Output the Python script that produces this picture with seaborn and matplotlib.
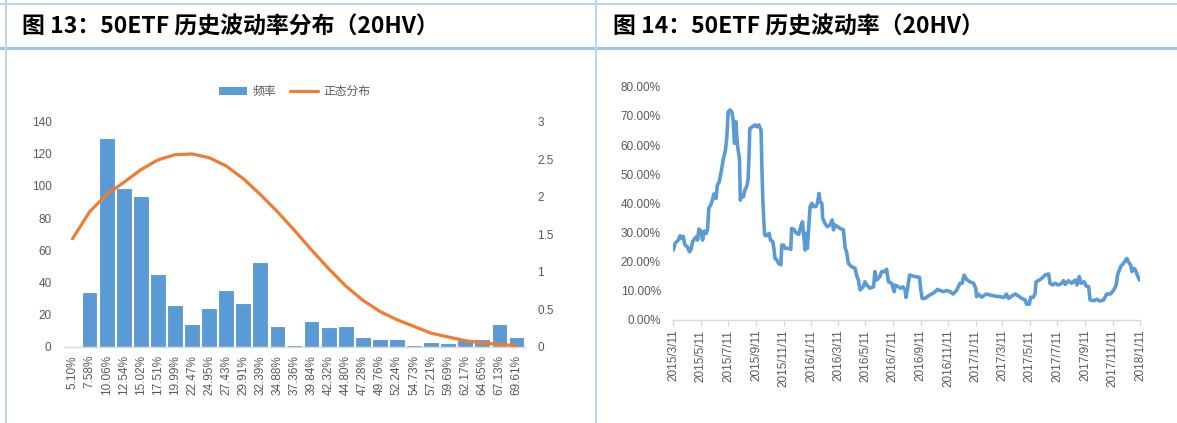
import numpy as np
import pandas as pd
import matplotlib
matplotlib.use('Agg')
import matplotlib.pyplot as plt
import seaborn as sns
from matplotlib.lines import Line2D
from matplotlib.patches import Patch

sns.set_theme(style='white')
plt.rcParams['font.family'] = ['Liberation Sans', 'Noto Sans CJK SC', 'DejaVu Sans']

# ---------------- data: left chart (histogram of 20HV) ----------------
bins = ['5.10%', '7.58%', '10.06%', '12.54%', '15.02%', '17.51%', '19.99%', '22.47%',
        '24.95%', '27.43%', '29.91%', '32.39%', '34.88%', '37.36%', '39.84%', '42.32%',
        '44.80%', '47.28%', '49.76%', '52.24%', '54.73%', '57.21%', '59.69%', '62.17%',
        '64.65%', '67.13%', '69.61%']
freq = [0, 34, 130, 99, 94, 45, 26, 14, 24, 35, 27, 53, 13, 1, 16, 12, 13, 6, 5, 5,
        1, 3, 2, 4, 5, 14, 6]
normal = [1.44, 1.80, 2.03, 2.19, 2.36, 2.49, 2.56, 2.57, 2.52, 2.41, 2.24, 2.03, 1.80,
          1.55, 1.29, 1.04, 0.81, 0.62, 0.47, 0.36, 0.27, 0.18, 0.13, 0.08, 0.05, 0.03, 0.015]
left_yticks = [0, 20, 40, 60, 80, 100, 120, 140]
right_yticks = [0, 0.5, 1, 1.5, 2, 2.5, 3]
right_ylabels = ['0', '0.5', '1', '1.5', '2', '2.5', '3']
legend_labels = ['频率', '正态分布']

# ---------------- data: right chart (20HV time series) ----------------
start_date = '2015-03-11'
# calendar days since 2015-03-11
hv_day = [0, 4, 11, 15, 19, 22, 26, 31, 36, 39, 43, 48, 52, 54, 57, 62, 65, 69, 73, 76,
          79, 83, 87, 90, 95, 98, 102, 107, 111, 116, 119, 122, 126, 130, 133, 136, 139,
          141, 143, 147, 149, 152, 156, 159, 163, 166, 168, 170, 176, 182, 185, 190, 195,
          197, 199, 201, 203, 207, 213, 216, 221, 224, 226, 230, 234, 239, 241, 245, 248,
          256, 261, 263, 268, 274, 279, 283, 287, 290, 293, 295, 298, 300, 304, 308, 311,
          317, 320, 324, 326, 330, 332, 337, 342, 348, 353, 356, 359, 365, 371, 378, 382,
          385, 389, 396, 404, 408, 411, 415, 422, 426, 430, 437, 445, 448, 452, 459, 463,
          470, 474, 478, 485, 491, 493, 500, 505, 510, 515, 517, 520, 525, 530, 537, 547,
          550, 553, 559, 567, 574, 582, 587, 593, 600, 608, 615, 622, 630, 637, 642, 646,
          652, 659, 667, 672, 674, 678, 685, 695, 704, 715, 726, 735, 740, 745, 752, 760,
          767, 774, 782, 785, 791, 794, 800, 804, 806, 811, 819, 826, 834, 837, 843, 848,
          856, 863, 867, 871, 878, 885, 893, 897, 902, 906, 913, 917, 923, 926, 934, 941,
          948, 956, 963, 971, 978, 984, 987, 990, 994, 1000, 1008, 1011, 1016, 1019, 1023,
          1027, 1031, 1036]
hv_value = [24.0, 26.3, 27.4, 28.9, 28.0, 28.6, 25.7, 25.1, 23.4, 24.0, 26.9, 28.0, 28.6,
            27.4, 31.2, 30.3, 27.4, 30.5, 29.7, 30.9, 38.3, 39.4, 41.1, 43.2, 41.7, 46.3,
            47.4, 51.4, 55.1, 58.3, 62.9, 71.4, 72.0, 71.4, 68.6, 60.6, 68.0, 62.9, 59.4,
            55.4, 41.1, 42.9, 42.3, 44.6, 45.7, 48.0, 54.9, 65.7, 66.3, 66.9, 66.3, 66.9,
            65.1, 51.4, 41.1, 34.3, 29.1, 28.9, 29.7, 27.4, 26.9, 24.0, 21.1, 20.6, 19.4,
            18.9, 25.7, 25.7, 24.6, 24.6, 24.2, 31.4, 31.1, 29.7, 29.4, 32.0, 33.7, 28.6,
            24.0, 29.7, 24.6, 29.7, 38.9, 40.0, 38.9, 38.9, 40.0, 43.4, 40.6, 40.0, 34.9,
            33.1, 32.0, 32.6, 34.3, 30.9, 32.6, 32.0, 31.4, 30.9, 24.6, 23.4, 19.4, 18.3,
            17.7, 14.9, 13.9, 10.3, 11.4, 13.1, 12.0, 10.9, 11.4, 16.6, 13.7, 14.9, 16.6,
            16.6, 17.4, 13.1, 12.6, 9.7, 12.0, 11.4, 10.9, 11.4, 10.3, 7.7, 10.3, 15.4,
            15.2, 14.9, 14.6, 10.3, 7.4, 7.4, 8.3, 8.9, 9.7, 10.5, 10.1, 9.7, 10.1, 9.7,
            8.9, 10.3, 12.6, 12.6, 15.4, 13.9, 13.1, 12.6, 10.9, 8.0, 8.9, 7.8, 8.9, 8.6,
            8.2, 8.0, 7.7, 8.9, 7.4, 8.2, 8.9, 8.2, 7.4, 6.9, 5.4, 5.4, 7.8, 7.8, 9.1,
            13.1, 13.5, 14.3, 15.4, 15.8, 12.6, 12.0, 12.6, 12.0, 12.6, 13.5, 12.2, 13.5,
            12.6, 13.7, 12.0, 14.9, 12.6, 13.1, 11.7, 11.4, 6.9, 6.6, 7.1, 6.5, 6.9, 8.9,
            8.9, 10.1, 12.0, 15.4, 16.6, 18.3, 19.4, 21.1, 20.0, 18.9, 16.6, 17.7, 17.1,
            15.4, 13.7]
tick_dates = ['2015/3/11', '2015/5/11', '2015/7/11', '2015/9/11', '2015/11/11',
              '2016/1/11', '2016/3/11', '2016/5/11', '2016/7/11', '2016/9/11',
              '2016/11/11', '2017/1/11', '2017/3/11', '2017/5/11', '2017/7/11',
              '2017/9/11', '2017/11/11', '2018/1/11']
hv_yticks = [0, 10, 20, 30, 40, 50, 60, 70, 80]

title_left = '图 13：50ETF 历史波动率分布（20HV）'
title_right = '图 14：50ETF 历史波动率（20HV）'

BLUE = '#5B9BD5'
ORANGE = '#ED7D31'
GRAY = '#595959'
AXIS = '#D9D9D9'

W, H = 1177, 423
fig = plt.figure(figsize=(W / 100, H / 100), dpi=100)
fig.patch.set_facecolor('white')

# ---------------- left chart ----------------
ax1 = fig.add_axes([64 / W, 1 - 346.7 / H, 461 / W, 225 / H])
df = pd.DataFrame({'bin': bins, 'freq': freq})
sns.barplot(data=df, x='bin', y='freq', ax=ax1, color=BLUE, saturation=1,
            width=0.92, edgecolor='white', linewidth=0.8)
ax1.set_xlim(-0.5, len(bins) - 0.5)
ax1.set_ylim(0, 140)
ax1.set_yticks(left_yticks)
ax1.set_xlabel('')
ax1.set_ylabel('')
ax1.tick_params(axis='y', length=0, pad=9, labelsize=8.5, labelcolor=GRAY)
ax1.tick_params(axis='x', length=0, pad=6, labelsize=8.5, labelcolor=GRAY, rotation=90)
for s in ['top', 'right', 'left']:
    ax1.spines[s].set_visible(False)
ax1.spines['bottom'].set_color(AXIS)
ax1.spines['bottom'].set_linewidth(1.0)

ax2 = ax1.twinx()
sns.lineplot(x=np.arange(len(bins)), y=normal, ax=ax2, color=ORANGE, lw=2.3)
ax2.set_ylim(0, 3)
ax2.set_yticks(right_yticks)
ax2.set_yticklabels(right_ylabels)
ax2.tick_params(axis='y', length=0, pad=9, labelsize=8.5, labelcolor=GRAY)
for s in ['top', 'right', 'left', 'bottom']:
    ax2.spines[s].set_visible(False)
ax2.set_ylabel('')

handles = [Patch(facecolor=BLUE, edgecolor='none'),
           Line2D([], [], color=ORANGE, lw=2.3)]
fig.legend(handles, legend_labels, loc='center', bbox_to_anchor=(294.5 / W, 1 - 92 / H),
           ncol=2, frameon=False, fontsize=8.5, labelcolor=GRAY, handlelength=2.4,
           handleheight=0.6, columnspacing=1.2, handletextpad=0.4)

# ---------------- right chart ----------------
ax3 = fig.add_axes([673.3 / W, 1 - 320 / H, (1140 - 673.3) / W, (320 - 86.7) / H])
dates = pd.Timestamp(start_date) + pd.to_timedelta(hv_day, unit='D')
sns.lineplot(x=dates, y=hv_value, ax=ax3, color=BLUE, lw=2.6)
ax3.set_xlim(pd.Timestamp('2015-03-11'), pd.Timestamp('2018-01-11'))
ax3.set_ylim(0, 80)
ax3.set_yticks(hv_yticks)
ax3.set_yticklabels([f'{v:.2f}%' for v in hv_yticks])
ax3.set_xticks(pd.to_datetime(tick_dates, format='%Y/%m/%d'))
ax3.set_xticklabels(tick_dates)
ax3.set_xlabel('')
ax3.set_ylabel('')
ax3.tick_params(axis='y', length=0, pad=9, labelsize=8.5, labelcolor=GRAY)
ax3.tick_params(axis='x', length=4, width=1, color=AXIS, direction='out', pad=3,
                labelsize=8.5, labelcolor=GRAY, rotation=90, bottom=True)
for s in ['top', 'right', 'left']:
    ax3.spines[s].set_visible(False)
ax3.spines['bottom'].set_color(AXIS)
ax3.spines['bottom'].set_linewidth(1.0)

# ---------------- frame decorations & titles ----------------
fig.add_artist(Line2D([0, 1], [1 - 4 / H] * 2, transform=fig.transFigure,
                      color='#BDD7EE', lw=1.5))
fig.add_artist(Line2D([0, 1], [1 - 48.5 / H] * 2, transform=fig.transFigure,
                      color='#9DC3E6', lw=2.2))
fig.add_artist(Line2D([596 / W] * 2, [0, 1], transform=fig.transFigure,
                      color='#BDD7EE', lw=1.5))
fig.add_artist(Line2D([6 / W] * 2, [0, 1], transform=fig.transFigure,
                      color='#BDD7EE', lw=1.5))

fig.text(22 / W, 1 - 27 / H, title_left, fontsize=16.5, fontweight='bold',
         family=['Noto Sans CJK SC'], va='center', ha='left', color='black')
fig.text(613 / W, 1 - 27 / H, title_right, fontsize=16.5, fontweight='bold',
         family=['Noto Sans CJK SC'], va='center', ha='left', color='black')

fig.savefig('out.png', dpi=100)
